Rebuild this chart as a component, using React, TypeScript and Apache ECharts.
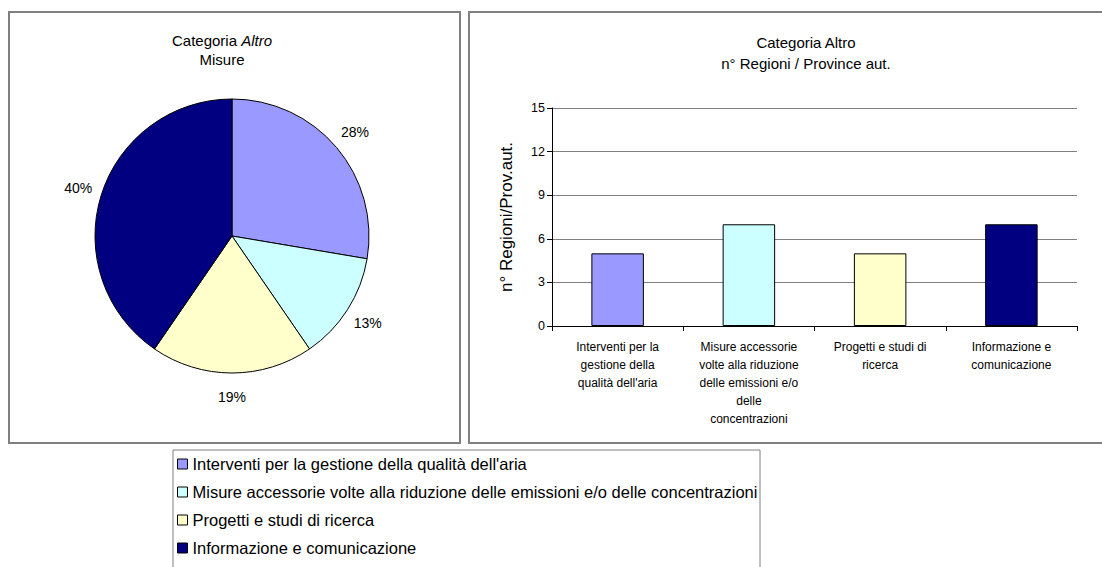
import React, { useEffect, useRef } from 'react';
import * as echarts from 'echarts';

const categories = [
  "Interventi per la gestione della qualità dell'aria",
  "Misure accessorie volte alla riduzione delle emissioni e/o delle concentrazioni",
  "Progetti e studi di ricerca",
  "Informazione e comunicazione",
];
const axisLabels = [
  "Interventi per la\ngestione della\nqualità dell'aria",
  "Misure accessorie\nvolte alla riduzione\ndelle emissioni e/o\ndelle\nconcentrazioni",
  "Progetti e studi di\nricerca",
  "Informazione e\ncomunicazione",
];
const colors = ['#9999FF', '#CCFFFF', '#FFFFCC', '#000080'];
const pieValues = [13, 6, 9, 19];
const barValues = [5, 7, 5, 7];
const yMin = 0;
const yMax = 15;
const yStep = 3;

const FONT = '"Liberation Sans", Arial, Helvetica, sans-serif';

export default function App() {
  const ref = useRef<HTMLDivElement>(null);
  useEffect(() => {
    if (!ref.current) return;
    const chart = echarts.init(ref.current, undefined, { renderer: 'svg' });
    const pieData = pieValues.map((v, i) => ({ value: v, name: categories[i], itemStyle: { color: colors[i] } }));
    chart.setOption({
      animation: false,
      backgroundColor: '#ffffff',
      textStyle: { fontFamily: FONT, color: '#000' },
      graphic: [
        { type: 'rect', shape: { x: 9, y: 12, width: 451, height: 431 }, style: { fill: 'none', stroke: '#808080', lineWidth: 2 }, silent: true },
        { type: 'rect', shape: { x: 469, y: 12, width: 640, height: 431 }, style: { fill: 'none', stroke: '#808080', lineWidth: 2 }, silent: true },
        { type: 'rect', shape: { x: 173, y: 450, width: 587, height: 200 }, style: { fill: 'none', stroke: '#808080', lineWidth: 1 }, silent: true },
        {
          type: 'text', x: 222, y: 31, silent: true,
          style: {
            text: '{n|Categoria }{i|Altro}\n{n|Misure}',
            align: 'center', verticalAlign: 'top',
            fill: '#000', fontSize: 15, fontFamily: FONT, lineHeight: 19,
            rich: {
              n: { fontSize: 15, fontFamily: FONT, lineHeight: 19, fill: '#000' },
              i: { fontSize: 15, fontFamily: FONT, lineHeight: 19, fontStyle: 'italic', fill: '#000' },
            },
          },
        },
        {
          type: 'text', x: 806, y: 32, silent: true,
          style: {
            text: 'Categoria Altro\nn° Regioni / Province aut.',
            align: 'center', verticalAlign: 'top',
            fill: '#000', fontSize: 15, fontFamily: FONT, lineHeight: 21,
          },
        },
      ],
      legend: {
        orient: 'vertical', left: 177, top: 450,
        data: categories,
        icon: 'rect', itemWidth: 10, itemHeight: 10, itemGap: 0,
        itemStyle: { borderColor: '#000', borderWidth: 1 },
        textStyle: { fontSize: 16.5, lineHeight: 28, color: '#000', fontFamily: FONT },
        padding: 0,
        selectedMode: false,
      },
      grid: { left: 552, top: 108, width: 525, height: 218, containLabel: false },
      xAxis: {
        type: 'category', data: axisLabels,
        axisLine: { lineStyle: { color: '#000', width: 1 } },
        axisTick: { show: true, length: 5, lineStyle: { color: '#000' } },
        axisLabel: { color: '#000', fontSize: 12, lineHeight: 18, margin: 12, interval: 0, fontFamily: FONT },
      },
      yAxis: {
        type: 'value', min: yMin, max: yMax, interval: yStep,
        name: 'n° Regioni/Prov.aut.', nameLocation: 'middle', nameGap: 37, nameRotate: 90,
        nameTextStyle: { fontSize: 17, color: '#000', fontFamily: FONT },
        axisLine: { show: true, lineStyle: { color: '#000', width: 1 } },
        axisTick: { show: true, length: 5, lineStyle: { color: '#000' } },
        axisLabel: { color: '#000', fontSize: 12.5, margin: 7, fontFamily: FONT },
        splitLine: { show: true, lineStyle: { color: '#808080', width: 1 } },
      },
      series: [
        {
          type: 'pie', center: [232, 236], radius: 137, startAngle: 90, clockwise: true,
          data: pieData,
          label: { show: false }, labelLine: { show: false },
          itemStyle: { borderColor: '#000', borderWidth: 1 },
          emphasis: { disabled: true },
        },
        {
          type: 'pie', center: [232, 236], radius: [0, 316], startAngle: 90, clockwise: true,
          data: pieValues.map((v, i) => ({ value: v, name: categories[i] + ' ' })),
          percentPrecision: 0,
          itemStyle: { color: 'rgba(0,0,0,0)', borderWidth: 0 },
          label: { show: true, position: 'inside', formatter: '{d}%', color: '#000', fontSize: 14, fontFamily: FONT },
          labelLine: { show: false },
          silent: true, z: 1,
          emphasis: { disabled: true },
        },
        {
          type: 'bar',
          data: barValues.map((v, i) => ({ value: v, itemStyle: { color: colors[i] } })),
          barWidth: '40%',
          itemStyle: { borderColor: '#000', borderWidth: 1 },
          emphasis: { disabled: true },
        },
      ],
    });
    return () => chart.dispose();
  }, []);
  return <div ref={ref} style={{ position: 'fixed', left: 0, top: 0, width: 1102, height: 567 }} />;
}
